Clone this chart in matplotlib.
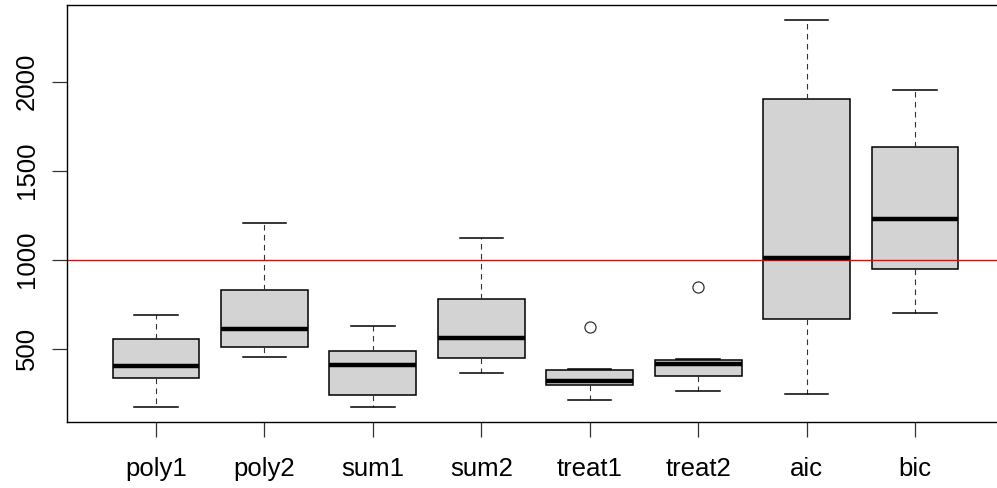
import matplotlib
matplotlib.use("Agg")
import matplotlib.pyplot as plt

plt.rcParams['font.family'] = ['Liberation Sans', 'DejaVu Sans']

# box statistics
labels = ["poly1", "poly2", "sum1", "sum2", "treat1", "treat2", "aic", "bic"]
whislo = [174, 455, 174, 365, 213, 264, 247, 701]
q1 = [337, 511, 236, 449, 294, 348, 668, 948]
med = [402, 609, 408, 559, 316, 411, 1011, 1230]
q3 = [555, 830, 488, 780, 382, 436, 1901, 1632]
whishi = [690, 1206, 628, 1122, 385, 443, 2344, 1951]
fliers = [[], [], [], [], [623], [847], [], []]
ref_line = 1000

stats = []
for i in range(len(labels)):
    stats.append(dict(label=labels[i], whislo=whislo[i], q1=q1[i], med=med[i],
                      q3=q3[i], whishi=whishi[i], fliers=fliers[i]))

fig = plt.figure(figsize=(9.97, 4.88), dpi=100)
ax = fig.add_axes([67/997, 66/488, (1004-67)/997, (422-5)/488])

ax.bxp(stats, positions=range(1, 9), widths=0.8, patch_artist=True,
       boxprops=dict(facecolor="#D3D3D3", edgecolor="black", linewidth=1.1),
       medianprops=dict(color="black", linewidth=3.2, solid_capstyle="butt"),
       whiskerprops=dict(color="#333333", linewidth=0.8, linestyle=(0, (5, 4))),
       capprops=dict(color="black", linewidth=1.1),
       flierprops=dict(marker="o", markersize=8, markerfacecolor="none",
                       markeredgecolor="#333333", markeredgewidth=0.9),
       capwidths=0.4)

ax.axhline(ref_line, color="red", linewidth=1)

ax.set_xlim(0.18, 8.82)
ax.set_ylim(87, 2431)
ax.set_yticks([500, 1000, 1500, 2000])
ax.set_yticklabels(["500", "1000", "1500", "2000"], rotation=90, va="center")
ax.set_xticks(range(1, 9))
ax.set_xticklabels(labels)
ax.tick_params(axis="both", labelsize=18.5, length=11, width=0.9, color="#333333")
ax.tick_params(axis="x", pad=14)
ax.tick_params(axis="y", pad=9)
for s in ax.spines.values():
    s.set_linewidth(1.0)
ax.spines["right"].set_visible(False)

fig.savefig("out.png", dpi=100)
